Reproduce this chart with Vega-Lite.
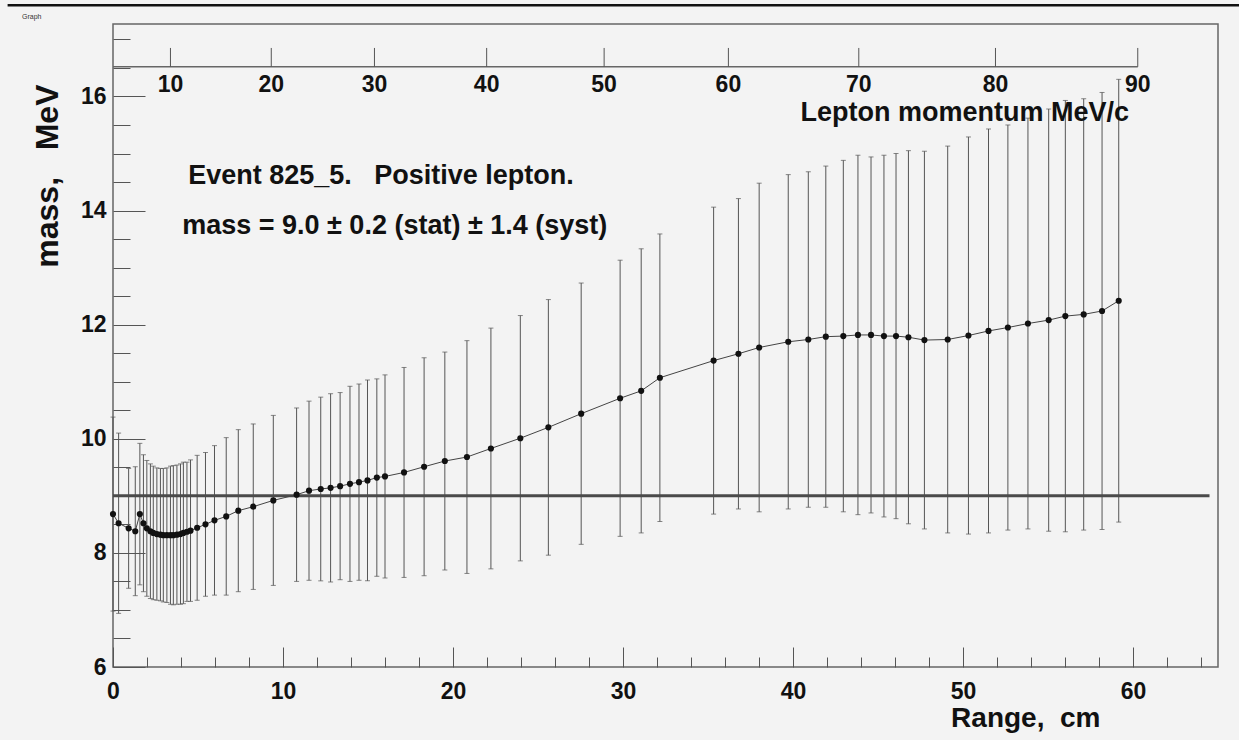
{
  "$schema": "https://vega.github.io/schema/vega-lite/v6.json",
  "width": 1105,
  "height": 643,
  "autosize": {"type": "none"},
  "padding": {"left": 113, "top": 24, "right": 21, "bottom": 73},
  "background": "#f3f3f3",
  "title": {"text": "Graph", "fontSize": 7, "font": "Liberation Sans", "fontWeight": "normal", "color": "#333", "anchor": "start", "frame": "group", "dx": -91, "dy": 20, "offset": 4},
  "config": {
    "view": {"stroke": "#666", "strokeWidth": 1.5},
    "axis": {"grid": false, "domain": false, "tickColor": "#555", "tickWidth": 1, "labelFont": "Liberation Sans", "labelFontWeight": "bold", "labelColor": "#111", "titleFont": "Liberation Sans", "titleFontWeight": "bold", "titleColor": "#111", "labelFlush": false, "labelOverlap": false, "labelBound": false},
    "text": {"font": "Liberation Sans", "fontWeight": "bold", "color": "#111"}
  },
  "datasets": {
    "pts": [
      {"r": 0, "m": 8.68, "e": 1.7},
      {"r": 0.33, "m": 8.52, "e": 1.58},
      {"r": 0.92, "m": 8.43, "e": 1.05},
      {"r": 1.31, "m": 8.38, "e": 1.13},
      {"r": 1.58, "m": 8.68, "e": 1.24},
      {"r": 1.79, "m": 8.52, "e": 1.2},
      {"r": 1.99, "m": 8.43, "e": 1.19},
      {"r": 2.2, "m": 8.38, "e": 1.18},
      {"r": 2.37, "m": 8.35, "e": 1.17},
      {"r": 2.58, "m": 8.33, "e": 1.16},
      {"r": 2.79, "m": 8.32, "e": 1.16},
      {"r": 2.96, "m": 8.31, "e": 1.17},
      {"r": 3.17, "m": 8.31, "e": 1.18},
      {"r": 3.38, "m": 8.31, "e": 1.21},
      {"r": 3.55, "m": 8.31, "e": 1.22},
      {"r": 3.76, "m": 8.32, "e": 1.22},
      {"r": 3.97, "m": 8.33, "e": 1.23},
      {"r": 4.14, "m": 8.35, "e": 1.24},
      {"r": 4.35, "m": 8.37, "e": 1.22},
      {"r": 4.56, "m": 8.39, "e": 1.24},
      {"r": 4.95, "m": 8.44, "e": 1.27},
      {"r": 5.44, "m": 8.5, "e": 1.26},
      {"r": 5.97, "m": 8.57, "e": 1.31},
      {"r": 6.66, "m": 8.64, "e": 1.38},
      {"r": 7.37, "m": 8.74, "e": 1.42},
      {"r": 8.25, "m": 8.81, "e": 1.45},
      {"r": 9.43, "m": 8.92, "e": 1.49},
      {"r": 10.8, "m": 9.02, "e": 1.52},
      {"r": 11.53, "m": 9.09, "e": 1.57},
      {"r": 12.22, "m": 9.12, "e": 1.61},
      {"r": 12.8, "m": 9.14, "e": 1.65},
      {"r": 13.36, "m": 9.17, "e": 1.64},
      {"r": 13.94, "m": 9.21, "e": 1.71},
      {"r": 14.47, "m": 9.24, "e": 1.72},
      {"r": 14.97, "m": 9.27, "e": 1.76},
      {"r": 15.52, "m": 9.32, "e": 1.73},
      {"r": 16.0, "m": 9.34, "e": 1.78},
      {"r": 17.12, "m": 9.41, "e": 1.84},
      {"r": 18.3, "m": 9.51, "e": 1.91},
      {"r": 19.52, "m": 9.61, "e": 1.91},
      {"r": 20.82, "m": 9.68, "e": 2.04},
      {"r": 22.23, "m": 9.83, "e": 2.11},
      {"r": 23.96, "m": 10.01, "e": 2.15},
      {"r": 25.61, "m": 10.2, "e": 2.24},
      {"r": 27.54, "m": 10.44, "e": 2.29},
      {"r": 29.83, "m": 10.71, "e": 2.42},
      {"r": 31.07, "m": 10.84, "e": 2.49},
      {"r": 32.17, "m": 11.07, "e": 2.52},
      {"r": 35.33, "m": 11.37, "e": 2.69},
      {"r": 36.79, "m": 11.49, "e": 2.72},
      {"r": 38.01, "m": 11.6, "e": 2.88},
      {"r": 39.72, "m": 11.7, "e": 2.93},
      {"r": 40.9, "m": 11.74, "e": 2.94},
      {"r": 41.93, "m": 11.79, "e": 2.99},
      {"r": 42.96, "m": 11.8, "e": 3.08},
      {"r": 43.82, "m": 11.82, "e": 3.15},
      {"r": 44.59, "m": 11.82, "e": 3.12},
      {"r": 45.35, "m": 11.8, "e": 3.17},
      {"r": 46.06, "m": 11.8, "e": 3.2},
      {"r": 46.79, "m": 11.78, "e": 3.27},
      {"r": 47.73, "m": 11.73, "e": 3.31},
      {"r": 49.1, "m": 11.74, "e": 3.39},
      {"r": 50.32, "m": 11.81, "e": 3.48},
      {"r": 51.5, "m": 11.89, "e": 3.54},
      {"r": 52.64, "m": 11.95, "e": 3.55},
      {"r": 53.82, "m": 12.02, "e": 3.6},
      {"r": 55.04, "m": 12.08, "e": 3.7},
      {"r": 56.02, "m": 12.15, "e": 3.78},
      {"r": 57.1, "m": 12.18, "e": 3.78},
      {"r": 58.18, "m": 12.24, "e": 3.83},
      {"r": 59.16, "m": 12.42, "e": 3.88}
    ],
    "mom": [
      {"p": 10, "r": 3.38},
      {"p": 20, "r": 9.31},
      {"p": 30, "r": 15.38},
      {"p": 40, "r": 21.98},
      {"p": 50, "r": 28.89},
      {"p": 60, "r": 36.2},
      {"p": 70, "r": 43.87},
      {"p": 80, "r": 51.91},
      {"p": 90, "r": 60.28}
    ],
    "ref": [{"m": 9.0}],
    "notes": [
      {"t": "Event 825_5.\u00a0\u00a0 Positive lepton."},
      {"t": "mass = 9.0 \u00b1 0.2 (stat) \u00b1 1.4 (syst)"}
    ]
  },
  "resolve": {"axis": {"x": "independent", "y": "independent"}},
  "layer": [
    {
      "data": {"name": "pts"},
      "mark": {"type": "errorbar", "color": "#555", "ticks": {"size": 5, "color": "#555"}, "rule": {"strokeWidth": 1}},
      "encoding": {
        "x": {"field": "r", "type": "quantitative", "scale": {"domain": [0, 65], "nice": false, "zero": false}, "axis": null},
        "y": {"field": "m", "type": "quantitative", "scale": {"domain": [6, 17.27], "nice": false, "zero": false}, "axis": null},
        "yError": {"field": "e"}
      }
    },
    {
      "data": {"name": "ref"},
      "mark": {"type": "rule", "color": "#4a4a4a", "strokeWidth": 3},
      "encoding": {
        "x": {"datum": 0, "type": "quantitative", "scale": {"domain": [0, 65], "nice": false, "zero": false}, "axis": null},
        "x2": {"datum": 64.5},
        "y": {"field": "m", "type": "quantitative", "scale": {"domain": [6, 17.27], "nice": false, "zero": false}, "axis": null}
      }
    },
    {
      "data": {"name": "pts"},
      "mark": {"type": "line", "color": "#444", "strokeWidth": 1},
      "encoding": {
        "x": {"field": "r", "type": "quantitative", "scale": {"domain": [0, 65], "nice": false, "zero": false},
              "axis": {"orient": "bottom", "values": [2, 4, 6, 8, 12, 14, 16, 18, 22, 24, 26, 28, 32, 34, 36, 38, 42, 44, 46, 48, 52, 54, 56, 58, 62, 64], "tickSize": -10, "labels": false, "title": null}},
        "y": {"field": "m", "type": "quantitative", "scale": {"domain": [6, 17.27], "nice": false, "zero": false},
              "axis": {"orient": "left", "values": [6.5, 7, 7.5, 8.5, 9, 9.5, 10.5, 11, 11.5, 12.5, 13, 13.5, 14.5, 15, 15.5, 16.5, 17], "tickSize": -17, "labels": false, "title": null}}
      }
    },
    {
      "data": {"name": "pts"},
      "mark": {"type": "circle", "color": "#111", "size": 38, "opacity": 1},
      "encoding": {
        "x": {"field": "r", "type": "quantitative", "scale": {"domain": [0, 65], "nice": false, "zero": false},
              "axis": {"orient": "bottom", "values": [0, 10, 20, 30, 40, 50, 60], "format": "d", "tickSize": -20, "labelPadding": 33, "labelFontSize": 23,
                       "title": "Range,\u00a0 cm", "titleFontSize": 28, "titleX": 987, "titleY": 51, "titleAlign": "right", "titleBaseline": "middle", "titleAngle": 0}},
        "y": {"field": "m", "type": "quantitative", "scale": {"domain": [6, 17.27], "nice": false, "zero": false},
              "axis": {"orient": "left", "values": [6, 8, 10, 12, 14, 16], "format": "d", "tickSize": -32, "labelPadding": 39, "labelFontSize": 23,
                       "title": "mass,\u00a0\u00a0 MeV", "titleFontSize": 32, "titleX": -66, "titleY": 60, "titleAngle": 270, "titleAlign": "right", "titleBaseline": "middle"}}
      }
    },
    {
      "data": {"values": [{}]},
      "mark": {"type": "rule", "color": "#666", "strokeWidth": 1.5},
      "encoding": {
        "x": {"datum": 0, "type": "quantitative", "scale": {"domain": [0, 65], "nice": false, "zero": false}, "axis": null},
        "x2": {"datum": 60.28},
        "y": {"datum": 16.52, "type": "quantitative", "scale": {"domain": [6, 17.27], "nice": false, "zero": false}, "axis": null}
      }
    },
    {
      "data": {"name": "mom"},
      "mark": {"type": "rule", "color": "#555", "strokeWidth": 1},
      "encoding": {
        "x": {"field": "r", "type": "quantitative", "scale": {"domain": [0, 65], "nice": false, "zero": false}, "axis": null},
        "y": {"datum": 16.52, "type": "quantitative", "scale": {"domain": [6, 17.27], "nice": false, "zero": false}, "axis": null},
        "y2": {"datum": 16.85}
      }
    },
    {
      "data": {"name": "mom"},
      "mark": {"type": "text", "fontSize": 23, "align": "center", "baseline": "middle"},
      "encoding": {
        "x": {"field": "r", "type": "quantitative", "scale": {"domain": [0, 65], "nice": false, "zero": false}, "axis": null},
        "y": {"datum": 16.2, "type": "quantitative", "scale": {"domain": [6, 17.27], "nice": false, "zero": false}, "axis": null},
        "text": {"field": "p", "type": "quantitative", "format": "d"}
      }
    },
    {
      "data": {"values": [{"t": "Lepton momentum MeV/c"}]},
      "mark": {"type": "text", "fontSize": 27, "align": "right", "baseline": "middle"},
      "encoding": {
        "x": {"datum": 59.77, "type": "quantitative", "scale": {"domain": [0, 65], "nice": false, "zero": false}, "axis": null},
        "y": {"datum": 15.71, "type": "quantitative", "scale": {"domain": [6, 17.27], "nice": false, "zero": false}, "axis": null},
        "text": {"field": "t"}
      }
    },
    {
      "data": {"name": "notes"},
      "transform": [{"filter": "indexof(datum.t, 'Event') == 0"}],
      "mark": {"type": "text", "fontSize": 27, "align": "left", "baseline": "middle"},
      "encoding": {
        "x": {"datum": 4.42, "type": "quantitative", "scale": {"domain": [0, 65], "nice": false, "zero": false}, "axis": null},
        "y": {"datum": 14.61, "type": "quantitative", "scale": {"domain": [6, 17.27], "nice": false, "zero": false}, "axis": null},
        "text": {"field": "t"}
      }
    },
    {
      "data": {"name": "notes"},
      "transform": [{"filter": "indexof(datum.t, 'mass') == 0"}],
      "mark": {"type": "text", "fontSize": 27, "align": "left", "baseline": "middle"},
      "encoding": {
        "x": {"datum": 4.07, "type": "quantitative", "scale": {"domain": [0, 65], "nice": false, "zero": false}, "axis": null},
        "y": {"datum": 13.73, "type": "quantitative", "scale": {"domain": [6, 17.27], "nice": false, "zero": false}, "axis": null},
        "text": {"field": "t"}
      }
    },
    {
      "data": {"values": [{}]},
      "mark": {"type": "rule", "color": "#111", "strokeWidth": 2.5, "clip": false},
      "encoding": {
        "x": {"datum": -6.2, "type": "quantitative", "scale": {"domain": [0, 65], "nice": false, "zero": false}, "axis": null},
        "x2": {"datum": 66.4},
        "y": {"datum": 17.6, "type": "quantitative", "scale": {"domain": [6, 17.27], "nice": false, "zero": false}, "axis": null}
      }
    }
  ]
}
